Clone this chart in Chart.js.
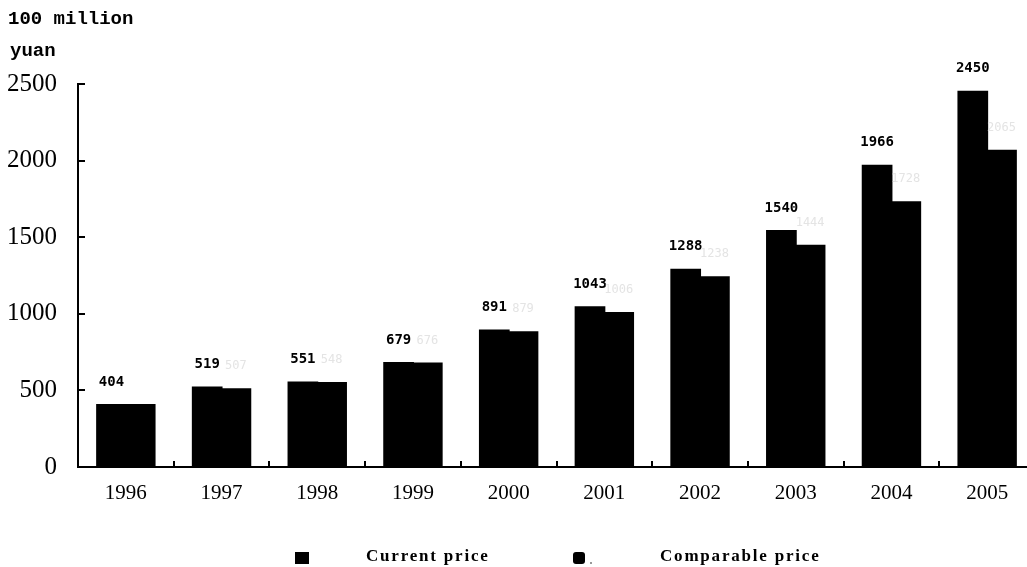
<!DOCTYPE html>
<html>
<head>
<meta charset="utf-8">
<script src="https://cdn.jsdelivr.net/npm/chart.js@4/dist/chart.umd.min.js"></script>
<style>
  html, body { margin: 0; padding: 0; background: #fff; overflow: hidden; width: 1027px; height: 567px; }
  #wrap { position: relative; width: 1035px; height: 567px; }
  canvas { position: absolute; left: 0; top: 0; }
  .unit { position: absolute; font-family: "Liberation Mono", "DejaVu Sans Mono", monospace; font-weight: bold; font-size: 19px; color: #000; white-space: nowrap; }
  .lg-box { position: absolute; background: #000; }
  .lg-text { position: absolute; font-family: "Liberation Serif", serif; font-weight: bold; font-size: 17px; color: #000; white-space: nowrap; }
</style>
</head>
<body>
<div id="wrap">
  <canvas id="c" width="1035" height="567"></canvas>
  <div class="unit" style="left:8px; top:8px;">100 million</div>
  <div class="unit" style="left:10px; top:40px;">yuan</div>
  <div class="lg-box" style="left:295px; top:552px; width:14px; height:12px;"></div>
  <div class="lg-text" id="lg1" style="left:366px; top:546px; letter-spacing:1.8px;"></div>
  <div class="lg-box" style="left:573px; top:552px; width:12px; height:12px; border-radius:3px;"></div>
  <div class="lg-box" style="left:590px; top:562px; width:2px; height:2px; background:#999;"></div>
  <div class="lg-text" id="lg2" style="left:660px; top:546px; letter-spacing:1.8px;"></div>
</div>
<script>
const years = ["1996","1997","1998","1999","2000","2001","2002","2003","2004","2005"];
const currentPrice = [404, 519, 551, 679, 891, 1043, 1288, 1540, 1966, 2450];
const comparablePrice = [404, 507, 548, 676, 879, 1006, 1238, 1444, 1728, 2065];
const yTicks = [0, 500, 1000, 1500, 2000, 2500];
const seriesNames = ["Current price", "Comparable price"];

document.getElementById('lg1').textContent = seriesNames[0];
document.getElementById('lg2').textContent = seriesNames[1];

const customDraw = {
  id: 'customDraw',
  afterDatasetsDraw(chart) {
    const ctx = chart.ctx;
    ctx.save();
    ctx.textAlign = 'center';
    ctx.textBaseline = 'middle';
    chart.data.datasets.forEach((ds, di) => {
      const meta = chart.getDatasetMeta(di);
      meta.data.forEach((bar, i) => {
        if (di === 0) {
          ctx.fillStyle = '#000';
          ctx.font = 'bold 14px "DejaVu Sans Mono", monospace';
        } else {
          ctx.fillStyle = '#e4e4e4';
          ctx.font = '12px "DejaVu Sans Mono", monospace';
        }
        if (di === 1 && i === 0) return;
        ctx.fillText(String(ds.data[i]), bar.x, bar.y - 23);
      });
    });
    ctx.restore();
  },
  afterDraw(chart) {
    const ctx = chart.ctx;
    const xs = chart.scales.x, ys = chart.scales.y;
    const area = chart.chartArea;
    ctx.save();
    ctx.strokeStyle = '#000';
    ctx.lineWidth = 2;
    ctx.beginPath();
    for (let i = 1; i < years.length; i++) {
      const x = Math.round((xs.getPixelForValue(i - 1) + xs.getPixelForValue(i)) / 2);
      ctx.moveTo(x, area.bottom);
      ctx.lineTo(x, area.bottom - 6);
    }
    yTicks.forEach(v => {
      const y = Math.round(ys.getPixelForValue(v));
      if (v === 0) return;
      ctx.moveTo(area.left, y);
      ctx.lineTo(area.left + 7, y);
    });
    ctx.stroke();
    ctx.restore();
  }
};

new Chart(document.getElementById('c'), {
  type: 'bar',
  data: {
    labels: years,
    datasets: [
      { label: seriesNames[0], data: currentPrice, backgroundColor: '#000', borderWidth: 0, inflateAmount: 1,
        categoryPercentage: 0.6, barPercentage: 1.0 },
      { label: seriesNames[1], data: comparablePrice, backgroundColor: '#000', borderWidth: 0, inflateAmount: 1,
        categoryPercentage: 0.6, barPercentage: 1.0 }
    ]
  },
  options: {
    responsive: false,
    animation: false,
    devicePixelRatio: 1,
    layout: { padding: { top: 84, left: 0, right: 0, bottom: 0 } },
    plugins: { legend: { display: false }, tooltip: { enabled: false } },
    scales: {
      x: {
        grid: { display: true, drawOnChartArea: false, drawTicks: false },
        border: { display: true, color: '#000', width: 2 },
        ticks: { color: '#000', font: { family: '"Liberation Serif", serif', size: 21 }, padding: 14, maxRotation: 0 },
        afterFit(scale) { scale.height = 100; }
      },
      y: {
        min: 0, max: 2500,
        grid: { display: true, drawOnChartArea: false, drawTicks: false },
        border: { display: true, color: '#000', width: 2 },
        afterBuildTicks(scale) { scale.ticks = yTicks.map(v => ({ value: v })); },
        ticks: { color: '#000', font: { family: '"Liberation Serif", serif', size: 25 }, padding: 21,
                 callback: (v) => String(v) },
        afterFit(scale) { scale.width = 78; }
      }
    }
  },
  plugins: [customDraw]
});
</script>
</body>
</html>
